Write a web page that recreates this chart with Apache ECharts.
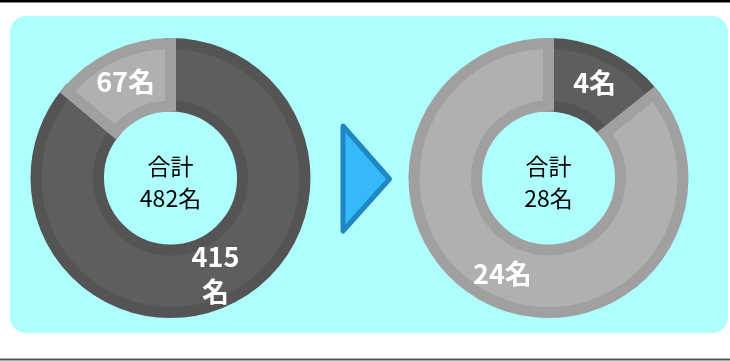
<!DOCTYPE html>
<html>
<head>
<meta charset="utf-8">
<script src="https://cdn.jsdelivr.net/npm/echarts@6/dist/echarts.min.js"></script>
<style>
  html, body { margin: 0; padding: 0; background: #fff; }
  #chart { width: 730px; height: 361px; }
</style>
</head>
<body>
<div id="chart"></div>
<script>
// before / after counts (clockwise from 12 o'clock)
const beforeValues = [415, 67]
const afterValues = [4, 24]
const unit = '名'
const totalLabel = '合計'

const darkFill = '#5e5e5e'
const darkEdge = '#545454'
const lightFill = '#b0b0b0'
const lightEdge = '#a0a0a0'
const font = '"Noto Sans CJK JP", "Noto Sans", sans-serif'

const sum = (arr) => arr.reduce((a, b) => a + b, 0)

const toData = (values, kinds) =>
  values.map((v, i) => ({
    value: v,
    itemStyle: {
      color: kinds[i] === 'dark' ? darkFill : lightFill,
      borderColor: kinds[i] === 'dark' ? darkEdge : lightEdge,
    },
  }))

const donut = (values, kinds, cx) => ({
  type: 'pie',
  center: [cx, 178],
  radius: [72, 134.5],
  startAngle: 90,
  clockwise: true,
  avoidLabelOverlap: false,
  silent: true,
  itemStyle: { borderWidth: 11, borderJoin: 'miter', borderMiterLimit: 20 },
  label: {
    show: true,
    position: 'inside',
    color: '#fff',
    fontSize: 27,
    fontWeight: 'bold',
    fontFamily: font,
    lineHeight: 35,
    formatter: (p) =>
      String(p.value).length > 2 ? p.value + '\n' + unit : p.value + unit,
  },
  labelLine: { show: false },
  data: toData(values, kinds),
})

const centerText = (x, values) => ({
  type: 'text',
  x: x,
  y: 182,
  z: 10,
  style: {
    text: totalLabel + '\n' + sum(values) + unit,
    fill: '#000',
    font: '23px ' + font,
    lineHeight: 32,
    align: 'center',
    verticalAlign: 'middle',
  },
})

const chart = echarts.init(document.getElementById('chart'), null, {
  renderer: 'canvas',
})
chart.setOption({
  animation: false,
  backgroundColor: '#fff',
  graphic: [
    { type: 'rect', z: -10, shape: { x: 0, y: 0, width: 730, height: 2.5 }, style: { fill: '#000' } },
    { type: 'rect', z: -10, shape: { x: 0, y: 358.5, width: 730, height: 2 }, style: { fill: '#555' } },
    {
      type: 'rect',
      z: -10,
      shape: { x: 10, y: 16, width: 718, height: 317, r: 16 },
      style: { fill: '#adfefc' },
    },
    {
      type: 'polygon',
      shape: { points: [[343, 126], [389.5, 179], [343, 231]] },
      style: { fill: '#36b9fb', stroke: '#1f88c2', lineWidth: 5, lineJoin: 'round' },
    },
    centerText(170.5, beforeValues),
    centerText(548.5, afterValues),
  ],
  series: [
    donut(beforeValues, ['dark', 'light'], 170.5),
    donut(afterValues, ['dark', 'light'], 548.5),
  ],
})
</script>
</body>
</html>
